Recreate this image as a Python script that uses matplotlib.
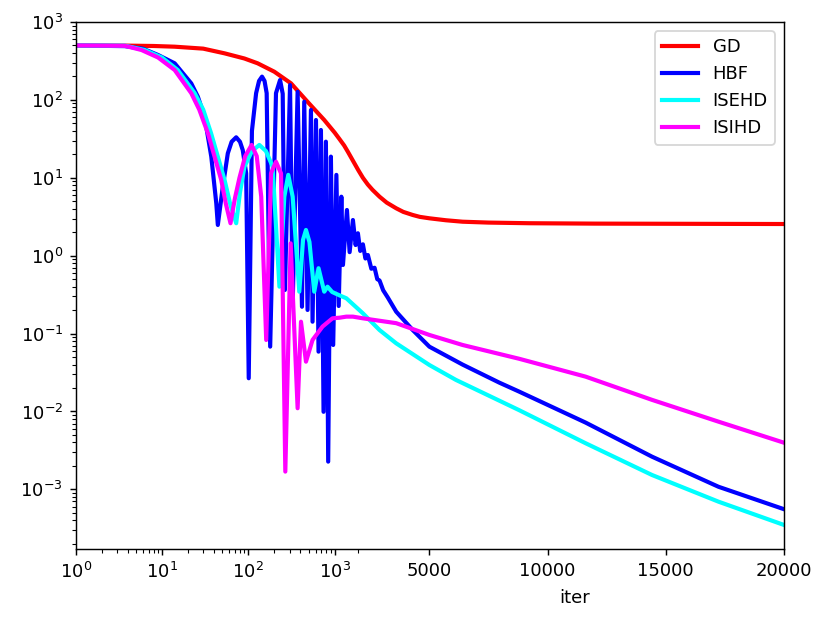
import numpy as np
import matplotlib
matplotlib.use("Agg")
import matplotlib.pyplot as plt

# values (x = iteration, y = error)
gd_x = [1, 3.7, 8, 14, 30, 53, 90, 128, 200, 312, 500, 757, 1000, 1200, 1400,
        1561, 1800, 2000, 2193, 2400, 2600, 2897, 3200, 3601, 3900, 4301, 4600,
        5004, 5700, 6409, 7500, 9233, 12000, 20000]
gd_y = [500, 498, 492, 482, 455, 396, 340, 295, 230, 163, 91, 55.2, 38, 31.5,
        26, 21.5, 16, 12.5, 10, 8.2, 7, 5.72, 4.8, 4.06, 3.65, 3.33, 3.15, 3.02,
        2.85, 2.73, 2.66, 2.61, 2.58, 2.55]

hbf_x = [1, 3.7, 6, 9, 14, 21.8, 26, 31.1, 37.2, 42.5, 44.3, 50.6, 57.8, 64, 72.3,
         80, 86.1, 94.3, 101, 110, 123, 133, 144, 154, 163, 179, 209, 233, 250,
         265, 304, 326, 372, 418, 444, 485, 531, 554, 607, 650, 693, 743, 791, 841,
         904, 961, 1072, 1169, 1282, 1350, 1518, 1632, 1771, 1885, 1982, 2080,
         2193, 2300, 2404, 2550, 2686, 2800, 2897, 3050, 3247, 3601, 4301, 5004,
         6407, 7955, 8798, 11610, 14416, 17228, 20000]
hbf_y = [500, 490, 455, 377, 295, 163, 110, 60.8, 18.7, 4.71, 2.48, 7.69, 20.6,
         29, 33.1, 29, 22.7, 11.4, 0.0267, 40, 122, 175, 199, 175, 122, 0.068,
         122, 180, 120, 0.363, 155, 0.233, 127, 0.221, 94.8, 0.201, 74.2, 0.142,
         55.2, 0.0586, 41.1, 0.0099, 29.1, 0.00227, 18.7, 0.0714, 10.9, 0.226,
         5.72, 0.76, 3.86, 1.11, 2.87, 1.37, 1.94, 1.15, 1.40, 0.92, 1.02, 0.68,
         0.70, 0.50, 0.48, 0.36, 0.29, 0.191, 0.111, 0.0679, 0.040, 0.0235, 0.018,
         0.0072, 0.00263, 0.00108, 0.000556]

isehd_x = [1, 3.7, 6.31, 10, 15.2, 23.9, 30, 37.0, 53.0, 62, 72.3, 80, 90.2, 110,
           134, 160, 191, 229, 261, 290, 326, 389, 430, 465, 510, 580, 650, 757,
           826, 935, 1200, 1493, 2193, 2897, 3601, 5004, 6129, 8798, 11610, 14416,
           17228, 20000]
isehd_y = [500, 498, 437, 350, 242, 122, 75, 37.3, 9.38, 4.5, 2.61, 6.5, 13.9,
           22, 26.4, 22, 13.9, 0.40, 5.72, 10.9, 5.72, 0.345, 1.6, 2.14, 1.5,
           0.345, 0.69, 0.345, 0.40, 0.342, 0.31, 0.284, 0.182, 0.111, 0.075,
           0.0395, 0.0254, 0.0104, 0.00391, 0.00153, 0.000695, 0.000349]

isihd_x = [1, 3.7, 5.78, 9, 14.0, 21.8, 27, 34.0, 48.5, 55, 62.1, 70, 78.9, 92,
           109, 125, 141, 161, 183, 209, 239, 268, 309, 372, 407, 465, 554, 723,
           943, 1211, 1493, 1771, 2193, 3601, 5004, 6407, 8798, 11610, 14416,
           17228, 20000]
isihd_y = [500, 495, 437, 350, 242, 122, 75, 37.3, 9.38, 4.6, 2.61, 5.5, 10, 19,
           26.4, 19, 5.72, 0.0828, 11.4, 16.1, 11.4, 0.00169, 1.44, 0.011, 0.142,
           0.0436, 0.0828, 0.123, 0.157, 0.16, 0.165, 0.165, 0.157, 0.136, 0.096,
           0.0714, 0.0475, 0.028, 0.0141, 0.0074, 0.00397]

xticks = [1, 10, 100, 1000, 5000, 10000, 15000, 20000]
xticklabels = ["$\\mathdefault{10^{0}}$", "$\\mathdefault{10^{1}}$",
               "$\\mathdefault{10^{2}}$", "$\\mathdefault{10^{3}}$",
               "5000", "10000", "15000", "20000"]


# log up to 1000, linear after that
def fwd(x):
    x = np.asarray(x, dtype=float)
    return np.where(x <= 1000, np.log10(np.clip(x, 1e-12, None)),
                    3 + (x - 1000) / 3650.0)


def inv(u):
    u = np.asarray(u, dtype=float)
    return np.where(u <= 3, 10 ** np.minimum(u, 3), 1000 + (u - 3) * 3650.0)


fig = plt.figure(figsize=(831 / 130, 625 / 130), dpi=130)
ax = fig.add_axes([0.0911, 0.1211, 0.8524, 0.8437])

ax.plot(gd_x, gd_y, color="#ff0000", lw=2.3, label="GD")
ax.plot(hbf_x, hbf_y, color="#0000ff", lw=2.3, label="HBF")
ax.plot(isehd_x, isehd_y, color="#00ffff", lw=2.3, label="ISEHD")
ax.plot(isihd_x, isihd_y, color="#ff00ff", lw=2.3, label="ISIHD")

ax.set_yscale("log")
ax.set_xscale("function", functions=(fwd, inv))
ax.set_xlim(1, 20000)
ax.set_ylim(1.7e-4, 1e3)

ax.set_xticks(xticks, labels=xticklabels)
minor = [m * d for d in (1, 10, 100) for m in range(2, 10)] + [2000]
ax.set_xticks(minor, minor=True)

ax.set_xlabel("iter", x=0.705)
ax.legend(loc="upper right")

fig.savefig("out.png", dpi=130)
